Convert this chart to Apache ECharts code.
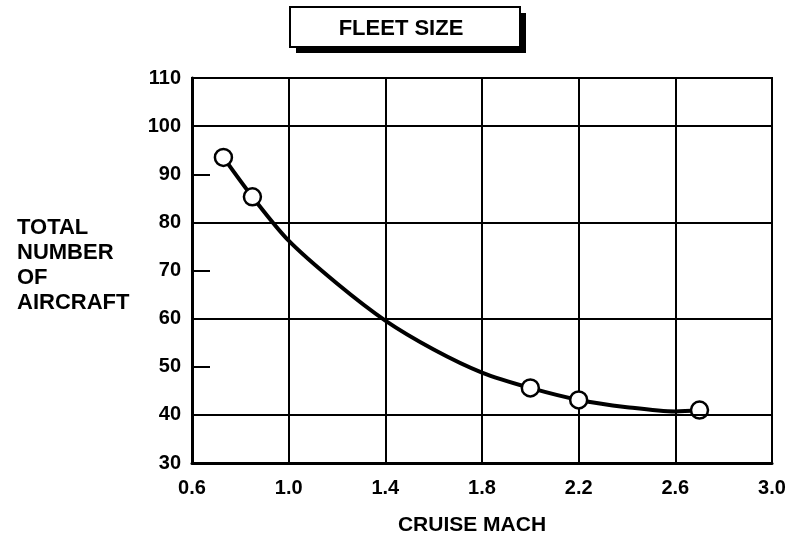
<!DOCTYPE html>
<html>
<head>
<meta charset="utf-8">
<script src="https://cdn.jsdelivr.net/npm/echarts@6/dist/echarts.min.js"></script>
<style>
  html, body { margin: 0; padding: 0; background: #fff; }
  #chart { width: 803px; height: 541px; }
</style>
</head>
<body>
<div id="chart"></div>
<script>
// points marked with circles
const machPoints = [0.73, 0.85, 2.0, 2.2, 2.7];
const fleetPoints = [93.5, 85.3, 45.6, 43.1, 41.0];
// faired curve
const curveMach = [0.73, 0.85, 1.0, 1.2, 1.4, 1.6, 1.8, 2.0, 2.2, 2.4, 2.6, 2.7];
const curveFleet = [93.5, 85.3, 76.2, 67.3, 59.6, 53.6, 48.8, 45.6, 43.1, 41.6, 40.7, 41.0];
// full horizontal grid lines (others only have short ticks)
const gridLevels = [40, 60, 80, 100];

const font = '"Liberation Sans", Arial, sans-serif';

const chart = echarts.init(document.getElementById('chart'));

const option = {
  animation: false,
  backgroundColor: '#fff',
  grid: {
    left: 192, right: 31, top: 78, bottom: 78,
    outerBoundsMode: 'none',
    show: true, borderColor: '#000', borderWidth: 2
  },
  xAxis: {
    type: 'value',
    min: 0.6, max: 3.0, interval: 0.4,
    name: 'CRUISE MACH',
    nameLocation: 'middle',
    nameGap: 52,
    nameTextStyle: { fontFamily: font, fontWeight: 'bold', fontSize: 21, color: '#000', padding: [0, 20, 0, 0] },
    axisLine: { show: true, lineStyle: { color: '#000', width: 3 } },
    axisTick: { show: false },
    axisLabel: {
      margin: 15, fontFamily: font, fontWeight: 'bold', fontSize: 20, color: '#000',
      formatter: v => v.toFixed(1)
    },
    splitLine: { show: true, lineStyle: { color: '#000', width: 2 } }
  },
  yAxis: {
    type: 'value',
    min: 30, max: 110, interval: 10,
    axisLine: { show: true, lineStyle: { color: '#000', width: 3 } },
    axisTick: { show: true, inside: true, length: 18, lineStyle: { color: '#000', width: 2 } },
    axisLabel: { margin: 11, fontFamily: font, fontWeight: 'bold', fontSize: 20, color: '#000' },
    splitLine: { show: false }
  },
  graphic: [
    { type: 'rect', shape: { x: 296, y: 13, width: 230, height: 40 }, style: { fill: '#000' } },
    { type: 'rect', shape: { x: 290, y: 7, width: 230, height: 40 }, style: { fill: '#fff', stroke: '#000', lineWidth: 2 } },
    { type: 'text', x: 401, y: 29, style: {
        text: 'FLEET SIZE', fill: '#000', font: 'bold 22px ' + font,
        align: 'center', verticalAlign: 'middle' } },
    { type: 'text', x: 17, y: 215, style: {
        text: 'TOTAL\nNUMBER\nOF\nAIRCRAFT', fill: '#000', font: 'bold 22px ' + font,
        lineHeight: 25, align: 'left', verticalAlign: 'top' } }
  ],
  series: [
    {
      type: 'line',
      data: curveMach.map((m, i) => [m, curveFleet[i]]),
      smooth: 0.3,
      showSymbol: false,
      lineStyle: { color: '#000', width: 4 },
      markLine: {
        silent: true,
        symbol: 'none',
        label: { show: false },
        lineStyle: { color: '#000', width: 2, type: 'solid' },
        data: gridLevels.map(v => ({ yAxis: v }))
      },
      z: 3
    },
    {
      type: 'scatter',
      data: machPoints.map((m, i) => [m, fleetPoints[i]]),
      symbol: 'circle',
      symbolSize: 17,
      itemStyle: { color: '#fff', borderColor: '#000', borderWidth: 2.5, opacity: 1 },
      z: 4
    }
  ]
};

chart.setOption(option);
</script>
</body>
</html>
